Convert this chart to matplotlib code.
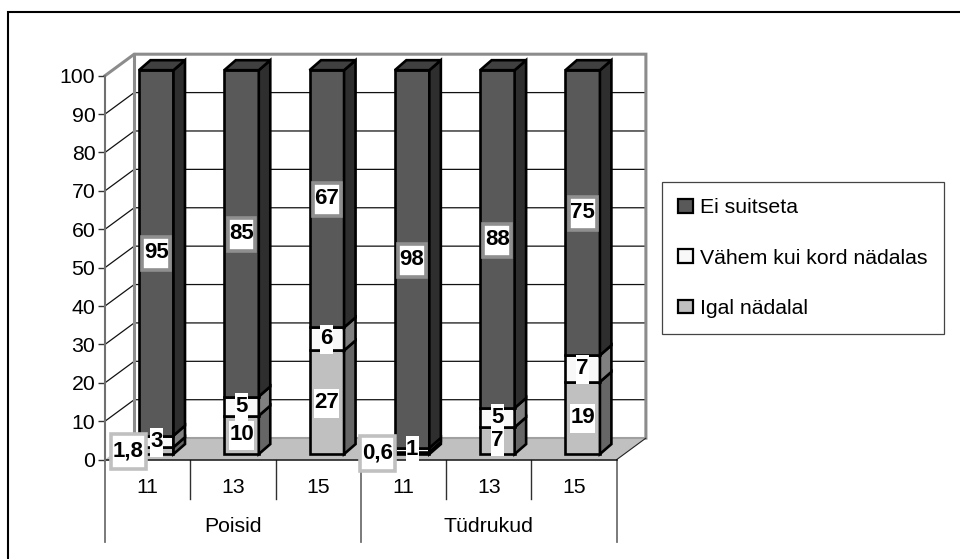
import matplotlib
matplotlib.use("Agg")
import matplotlib.pyplot as plt
from matplotlib.lines import Line2D
from matplotlib.patches import Patch, Polygon
from matplotlib.path import Path
import numpy as np

plt.rcParams['font.family'] = ['Liberation Sans', 'DejaVu Sans']

ages = ['11', '13', '15', '11', '13', '15']
groups = ['Poisid', 'Tüdrukud']
series_names = ['Igal nädalal', 'Vähem kui kord nädalas', 'Ei suitseta']
igal = [1.8, 10, 27, 0.6, 7, 19]
vahem = [3, 5, 6, 1, 5, 7]
ei = [95, 85, 67, 98, 88, 75]
y_ticks = [0, 10, 20, 30, 40, 50, 60, 70, 80, 90, 100]

W, H = 960, 559
FS = 15.3
FS_DATA = 16
FRONT = ['#c0c0c0', '#f8f8f8', '#595959']
SIDE = ['#666666', '#808080', '#2e2e2e']
TOP = ['#909090', '#c0c0c0', '#404040']

fig = plt.figure(figsize=(W / 100, H / 100), dpi=100, facecolor='white')
# Plot area: front face of the 3D box
x0, x1, y_top, y_bot = 105, 616.7, 75.7, 459.6
ax = fig.add_axes([x0 / W, 1 - y_bot / H, (x1 - x0) / W, (y_bot - y_top) / H])
ax.set_xlim(0, 6)
ax.set_ylim(0, 100)
ax.patch.set_visible(False)
for s in ['top', 'right', 'bottom']:
    ax.spines[s].set_visible(False)
ax.spines['left'].set_color('#707070')
ax.spines['left'].set_linewidth(1.5)
ax.spines['left'].set_zorder(3)

pxx = 6 / (x1 - x0)
pxy = 100 / (y_bot - y_top)
DX, DY = 29.2 * pxx, 21.5 * pxy       # depth of the box
BW = 34.5 * pxx                       # bar width
BDX, BDY = 11.5 * pxx, 10 * pxy       # depth of a bar
OX, OY = 8.6 * pxx, 5.5 * pxy         # bar offset from front of the box

# Back wall and floor
ax.add_patch(Polygon([(DX, DY), (6 + DX, DY), (6 + DX, 100 + DY), (DX, 100 + DY)],
                     closed=True, fc='white', ec='none', zorder=0, clip_on=False))
for v in y_ticks[1:-1]:
    ax.plot([0, DX, 6 + DX], [v, v + DY, v + DY], color='#111111', lw=0.9, zorder=1, clip_on=False)
ax.plot([0, DX, 6 + DX, 6 + DX], [100, 100 + DY, 100 + DY, DY], color='#8c8c8c', lw=2.2, zorder=1.5,
        clip_on=False, solid_joinstyle='miter')
ax.plot([DX, DX], [100 + DY, DY], color='#8c8c8c', lw=2.2, zorder=1.5, clip_on=False)
ax.add_patch(Polygon([(0, 0), (6, 0), (6 + DX, DY), (DX, DY)], closed=True,
                     fc='#c0c0c0', ec='none', zorder=2, clip_on=False))
ax.plot([DX, 6 + DX], [DY, DY], color='#a0a0a0', lw=1.5, zorder=2.1, clip_on=False)
ax.plot([6, 6 + DX], [0, DY], color='#222222', lw=0.8, zorder=2.2, clip_on=False)
ax.plot([0, 6], [0, 0], color='#111111', lw=1.1, zorder=2.3, clip_on=False)


# Data labels with sized boxes
def make_box(extra_w, height, shift=0):
    def box(x, y, w, h, mutation_size):
        cy = y + h / 2 + shift
        L, R = x - extra_w / 2, x + w + extra_w / 2
        B, T = cy - height / 2, cy + height / 2
        return Path([(L, B), (R, B), (R, T), (L, T), (L, B)],
                    [Path.MOVETO, Path.LINETO, Path.LINETO, Path.LINETO, Path.CLOSEPOLY])
    return box


def put_label(x, y, val, kind, z):
    txt = f'{val:g}'.replace('.', ',')
    if kind == 'halo':
        bb = dict(boxstyle=make_box(3, 33, -1), fc='white', ec='#8f8f8f', lw=2.6)
    elif kind == 'small':
        bb = dict(boxstyle=make_box(4, 35, -1), fc='white', ec='#c0c0c0', lw=2.6)
    else:
        bb = dict(boxstyle=make_box(0.5, 29, -1), fc='white', ec='none')
    ax.text(x, y, txt, ha='center', va='center', fontsize=FS_DATA, fontweight='bold',
            color='black', bbox=bb, zorder=z, clip_on=False)


values = np.array([igal, vahem, ei], dtype=float)
totals = values.sum(axis=0)
for i in range(6):
    left = i + 0.5 + OX - BW / 2
    right = left + BW
    base = OY
    for s in range(3):
        seg = values[s, i] / totals[i] * 100
        b, t = base, base + seg
        z = 5 + i + s * 0.1
        kw = dict(closed=True, ec='black', lw=1.9, joinstyle='miter', zorder=z, clip_on=False)
        ax.add_patch(Polygon([(left, b), (right, b), (right, t), (left, t)], fc=FRONT[s], **kw))
        ax.add_patch(Polygon([(right, b), (right + BDX, b + BDY), (right + BDX, t + BDY), (right, t)],
                             fc=SIDE[s], **kw))
        if s == 2:
            ax.add_patch(Polygon([(left, t), (right, t), (right + BDX, t + BDY), (left + BDX, t + BDY)],
                                 fc=TOP[s], **kw))
        cx = (left + right) / 2
        if values[s, i] < 2 and s == 0:
            shift = -28 * pxx if values[s, i] > 1 else -35 * pxx
            put_label(cx + shift, (b + t) / 2, values[s, i], 'small', 25)
        else:
            put_label(cx, (b + t) / 2, values[s, i], 'halo' if s == 2 else 'plain', 22 - s)
        base = t

# Axis ticks and labels
ax.set_yticks(y_ticks)
ax.tick_params(axis='y', length=5, width=1.0, color='#333333', labelsize=FS, pad=2)
ax.set_xticks(np.arange(6) + 0.5)
ax.set_xticklabels(ages)
ax.tick_params(axis='x', length=0, labelsize=FS, pad=13)

# Multi-level category separators
inner_y = -(499 - y_bot) * pxy
outer_y = -(541.7 - y_bot) * pxy
for xv in [1, 2, 4, 5]:
    ax.plot([xv, xv], [0, inner_y], color='#303030', lw=1.0, clip_on=False, zorder=1)
for xv in [0, 3, 6]:
    ax.plot([xv, xv], [0, outer_y], color='#707070', lw=1.3, clip_on=False, zorder=1)
for k, g in enumerate(groups):
    ax.text(1.5 + 3 * k, -(527 - y_bot) * pxy, g, ha='center', va='center', fontsize=FS, clip_on=False)

# Outer chart frame (top and left only visible in the crop)
fig.add_artist(Line2D([8 / W, 8 / W, 1], [0, 1 - 12 / H, 1 - 12 / H], color='black', lw=1.5,
                      transform=fig.transFigure, solid_joinstyle='miter'))

# Legend
handles = [Patch(fc=FRONT[s], ec='black', lw=1.6, label=series_names[s]) for s in [2, 1, 0]]
leg = ax.legend(handles=handles, loc='upper left', bbox_to_anchor=(661.7 / W, 1 - 181.7 / H),
                bbox_transform=fig.transFigure, fontsize=FS, frameon=True, fancybox=False,
                edgecolor='#444444', facecolor='white', framealpha=1, borderaxespad=0,
                handlelength=0.68, handleheight=0.6, handletextpad=0.36, labelspacing=1.47,
                borderpad=0.78)
leg.get_frame().set_linewidth(0.9)
leg.set_zorder(30)

fig.savefig('out.png', dpi=100, facecolor='white')
